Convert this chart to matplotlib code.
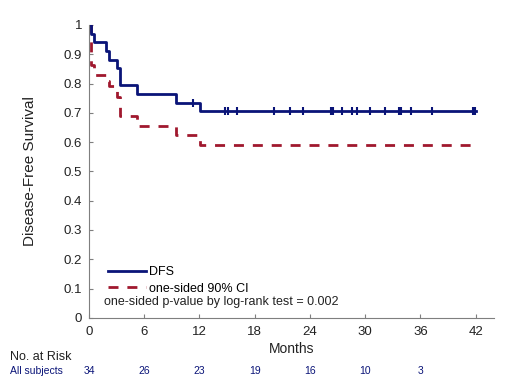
import matplotlib
matplotlib.use('Agg')
import matplotlib.pyplot as plt
from matplotlib.lines import Line2D

plt.rcParams['font.family'] = ['Liberation Sans', 'DejaVu Sans']

# step times (months) and survival values
times = [0, 0.2, 0.5, 1.9, 2.2, 3.1, 3.4, 5.25, 9.45, 12.05, 42]
dfs = [1, 0.97, 0.941, 0.912, 0.882, 0.853, 0.794, 0.765, 0.735, 0.706, 0.706]
ci = [1, 0.865, 0.83, 0.81, 0.79, 0.755, 0.69, 0.655, 0.625, 0.59, 0.59]

# censored observations
censor_t = [11.3, 14.8, 15.1, 16.1, 20.1, 21.8, 23.3, 26.3, 26.5, 27.5, 28.6,
            29.1, 30.5, 32.2, 33.7, 33.9, 35.0, 37.3, 41.7, 41.9]
censor_s = [0.735] + [0.706] * 19

risk_months = [0, 6, 12, 18, 24, 30, 36]
at_risk = [34, 26, 23, 19, 16, 10, 3]
xticks = [0, 6, 12, 18, 24, 30, 36, 42]

navy = '#0a1478'
red = '#a0182e'
grey = '#7f7f7f'
txt = '#222222'

fig = plt.figure(figsize=(5.2, 3.9), dpi=100)
ax = fig.add_axes([0.171, 0.185, 0.779, 0.751])

ax.step(times, ci, where='post', color=red, lw=2, dashes=(3.6, 3.2))
ax.step(times, dfs, where='post', color=navy, lw=2)
ax.plot(censor_t, censor_s, ls='none', marker='|', ms=6, mew=1.5, color=navy)

ax.set_xlim(0, 44)
ax.set_ylim(0, 1)
ax.set_xticks(xticks)
ax.set_yticks([i / 10 for i in range(11)])
ax.set_yticklabels(['0', '0.1', '0.2', '0.3', '0.4', '0.5', '0.6', '0.7', '0.8', '0.9', '1'])
ax.tick_params(direction='in', length=3, color=grey, labelsize=9.5, labelcolor=txt)
ax.tick_params(axis='x', pad=6)
ax.tick_params(axis='y', pad=5)
for s in ['top', 'right']:
    ax.spines[s].set_visible(False)
for s in ['left', 'bottom']:
    ax.spines[s].set_color(grey)
ax.set_ylabel('Disease-Free Survival', fontsize=11, color=txt, labelpad=19)
ax.set_xlabel('Months', fontsize=10, color=txt, labelpad=3)

handles = [Line2D([], [], color=navy, lw=2),
           Line2D([], [], color=red, lw=2, dashes=(3.6, 3.2))]
ax.legend(handles, ['DFS', 'one-sided 90% CI'], loc='lower left',
          bbox_to_anchor=(0.035, 0.062), frameon=False, fontsize=9,
          handlelength=3.0, handletextpad=0.3, labelspacing=0.35, borderaxespad=0)
ax.text(0.038, 0.055, 'one-sided p-value by log-rank test = 0.002', transform=ax.transAxes,
        fontsize=9, color=txt, va='center')

fig.text(0.019, 0.085, 'No. at Risk', fontsize=9, color=txt, va='center')
fig.text(0.019, 0.048, 'All subjects', fontsize=7.5, color=navy, va='center')
for m, n in zip(risk_months, at_risk):
    xf = fig.transFigure.inverted().transform(ax.transData.transform((m, 0)))[0]
    fig.text(xf, 0.048, str(n), fontsize=7.5, color=navy, ha='center', va='center')

fig.savefig('out.png', dpi=100)
